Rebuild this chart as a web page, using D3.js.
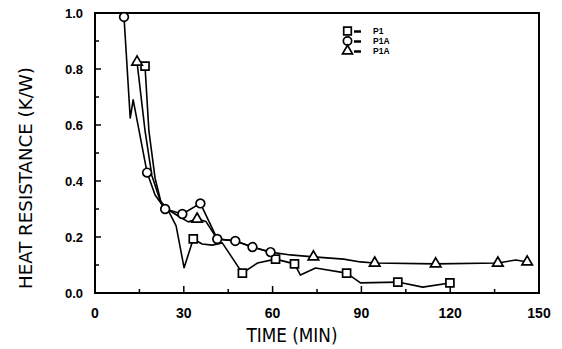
<!DOCTYPE html>
<html><head><meta charset="utf-8">
<script src="https://cdn.jsdelivr.net/npm/d3@7"></script>
<style>body{margin:0;background:#fff}svg{display:block}</style>
</head><body><div id="chart"></div>
<script>
// ---- data ----
const xTicks = [0, 30, 60, 90, 120, 150];
const yTicks = [0.0, 0.2, 0.4, 0.6, 0.8, 1.0];
const seriesNames = ["P1", "P1A", "P1A"];
// P1 (squares)
const sqTime  = [16.9, 18.2, 20.3, 22.4, 24.7, 27.4, 30.1, 33.2, 36.2, 39.6, 43.0, 49.8, 54.9, 61.0, 67.4, 69.4, 74.5, 85.0, 89.7, 102.3, 110.7, 119.9];
const sqValue = [0.81, 0.58, 0.41, 0.32, 0.296, 0.24, 0.09, 0.193, 0.175, 0.171, 0.179, 0.071, 0.107, 0.121, 0.104, 0.064, 0.089, 0.071, 0.036, 0.039, 0.021, 0.036];
const sqMarks = [0, 7, 11, 13, 14, 17, 19, 21];
// P1A (circles)
const ciTime  = [9.8, 11.9, 12.9, 17.6, 20.3, 23.7, 29.5, 35.6, 41.3, 47.4, 53.2, 59.3];
const ciValue = [0.986, 0.625, 0.69, 0.43, 0.35, 0.30, 0.282, 0.32, 0.193, 0.186, 0.164, 0.146];
const ciMarks = [0, 3, 5, 6, 7, 8, 9, 10, 11];
// P1A (triangles)
const trTime  = [14.2, 16.9, 19.2, 22.0, 24.4, 28.1, 31.5, 34.5, 37.5, 41.3, 47.4, 53.2, 59.3, 66.0, 73.8, 84.0, 89.7, 94.5, 115.1, 136.1, 142.2, 146.0];
const trValue = [0.825, 0.58, 0.42, 0.33, 0.30, 0.275, 0.254, 0.264, 0.255, 0.193, 0.186, 0.164, 0.146, 0.136, 0.129, 0.121, 0.111, 0.107, 0.104, 0.107, 0.118, 0.111];
const trMarks = [0, 7, 14, 17, 18, 19, 21];

// ---- layout ----
const W = 562, H = 349;
const svg = d3.select("#chart").append("svg").attr("width", W).attr("height", H);
const x = d3.scaleLinear().domain([0, 150]).range([95, 539]);
const y = d3.scaleLinear().domain([0, 1]).range([293, 13]);
const font = "'Liberation Sans', Arial, sans-serif";

// frame
svg.append("rect").attr("x", x(0)).attr("y", y(1)).attr("width", x(150) - x(0)).attr("height", y(0) - y(1))
  .attr("fill", "none").attr("stroke", "#000").attr("stroke-width", 2);

// x ticks (inward)
const xAxis = d3.axisBottom(x).tickValues(d3.range(0, 151, 15)).tickSize(0).tickFormat("");
svg.append("g").attr("transform", `translate(0,${y(0)})`).call(xAxis).call(g => g.select(".domain").remove());
svg.append("g").selectAll("line").data(d3.range(15, 150, 15)).join("line")
  .attr("x1", d => x(d)).attr("x2", d => x(d))
  .attr("y1", y(0)).attr("y2", d => y(0) - (d % 30 === 0 ? 7 : 4))
  .attr("stroke", "#000").attr("stroke-width", 1.5);
svg.append("g").selectAll("text").data(xTicks).join("text")
  .attr("x", d => x(d)).attr("y", 318).attr("text-anchor", "middle")
  .attr("font-family", font).attr("font-weight", "bold").attr("font-size", 14)
  .text(d => d);

// y ticks (inward)
svg.append("g").selectAll("line").data(d3.range(1, 10)).join("line")
  .attr("x1", x(0)).attr("x2", d => x(0) + (d % 2 === 0 ? 6 : 4))
  .attr("y1", d => y(d / 10)).attr("y2", d => y(d / 10))
  .attr("stroke", "#000").attr("stroke-width", 1.5);
svg.append("g").selectAll("text").data(yTicks).join("text")
  .attr("x", 83).attr("y", d => y(d) + 4.5).attr("text-anchor", "end")
  .attr("font-family", font).attr("font-weight", "bold").attr("font-size", 13)
  .text(d => d3.format(".1f")(d));

// axis titles
svg.append("text").attr("x", 292).attr("y", 342).attr("text-anchor", "middle")
  .attr("font-family", "'Liberation Sans Narrow', 'DejaVu Sans Condensed', sans-serif").attr("font-size", 19)
  .attr("textLength", 91).attr("lengthAdjust", "spacingAndGlyphs")
  .text("TIME (MIN)");
svg.append("text").attr("transform", "translate(32,178) rotate(-90)").attr("text-anchor", "middle")
  .attr("font-family", "'Liberation Sans Narrow', 'DejaVu Sans Condensed', sans-serif").attr("font-size", 18)
  .attr("textLength", 222).attr("lengthAdjust", "spacingAndGlyphs")
  .text("HEAT RESISTANCE  (K/W)");

// ---- series ----
const line = d3.line().x(d => x(d[0])).y(d => y(d[1]));
function pts(t, v) { return t.map((d, i) => [d, v[i]]); }
const series = [
  { t: sqTime, v: sqValue, m: sqMarks, shape: "square" },
  { t: ciTime, v: ciValue, m: ciMarks, shape: "circle" },
  { t: trTime, v: trValue, m: trMarks, shape: "triangle" }
];
const sym = { square: d3.symbolSquare, circle: d3.symbolCircle, triangle: d3.symbolTriangle };
const symSize = { square: 64, circle: 60, triangle: 48 };
series.forEach(s => {
  svg.append("path").datum(pts(s.t, s.v)).attr("d", line)
    .attr("fill", "none").attr("stroke", "#000").attr("stroke-width", 1.6).attr("stroke-linejoin", "round");
});
series.forEach(s => {
  const p = pts(s.t, s.v);
  svg.append("g").selectAll("path").data(s.m.map(i => p[i])).join("path")
    .attr("transform", d => `translate(${x(d[0])},${y(d[1])})`)
    .attr("d", d3.symbol().type(sym[s.shape]).size(symSize[s.shape]))
    .attr("fill", "#fff").attr("stroke", "#000").attr("stroke-width", 1.7);
});

// ---- legend ----
const legY = [31, 41, 51];
const shapes = ["square", "circle", "triangle"];
const leg = svg.append("g");
shapes.forEach((s, i) => {
  leg.append("path").attr("transform", `translate(347.5,${legY[i]})`)
    .attr("d", d3.symbol().type(sym[s]).size(symSize[s] * 0.9))
    .attr("fill", "#fff").attr("stroke", "#000").attr("stroke-width", 1.7);
  leg.append("line").attr("x1", 354).attr("x2", 361).attr("y1", legY[i] + 0.5).attr("y2", legY[i] + 0.5)
    .attr("stroke", "#000").attr("stroke-width", 2.5);
  leg.append("text").attr("x", 373).attr("y", legY[i] + 3)
    .attr("font-family", font).attr("font-weight", "bold").attr("font-size", 8.5)
    .text(seriesNames[i]);
});
</script></body></html>
